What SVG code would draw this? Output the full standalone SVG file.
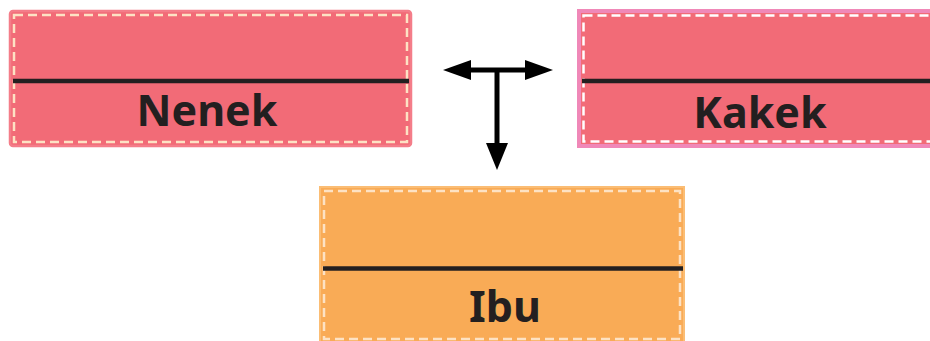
<svg xmlns="http://www.w3.org/2000/svg" width="930" height="341" viewBox="0 0 930 341">
<defs>
<style>
.fill-red{fill:#f26b77}
.fill-org{fill:#f9ab56}
.inner{fill:none;stroke-width:2.5;stroke-dasharray:9 5}
.div{stroke:#231f20;stroke-width:4.5}
.lbl{font-family:"Noto Sans","Open Sans",sans-serif;font-weight:bold;font-size:43px;fill:#231f20;text-anchor:middle}
.conn{stroke:#000;stroke-width:5;fill:none}
.head{fill:#000}
</style>
</defs>
<rect width="930" height="341" fill="#fff"/>
<g id="nenek">
<rect class="fill-red" x="10" y="11" width="401" height="135" rx="3" stroke="#f47d89" stroke-width="2.5"/>
<rect class="inner" x="14" y="15" width="393" height="127" stroke="#fde2c4"/>
<line class="div" x1="13" y1="81" x2="409" y2="81"/>
<text class="lbl" x="207" y="126">Nenek</text>
</g>
<g id="kakek">
<rect class="fill-red" x="579" y="11" width="400" height="135" stroke="#f088b8" stroke-width="4"/>
<rect class="inner" x="583.5" y="15.5" width="400" height="126" stroke="#ffffff"/>
<line class="div" x1="582" y1="81" x2="930" y2="81"/>
<text class="lbl" x="760" y="128">Kakek</text>
</g>
<g id="ibu">
<rect class="fill-org" x="320" y="187" width="364" height="160" stroke="#fbbd74" stroke-width="2"/>
<rect class="inner" x="324" y="191" width="356" height="148" stroke="#fde2c4"/>
<line class="div" x1="323" y1="268.5" x2="683" y2="268.5"/>
<text class="lbl" x="505" y="322">Ibu</text>
</g>
<g id="connectors">
<line class="conn" x1="468" y1="70" x2="528" y2="70"/>
<line class="conn" x1="497" y1="70" x2="497" y2="146"/>
<polygon class="head" points="443,70 471,60 471,80"/>
<polygon class="head" points="553,70 525,60 525,80"/>
<polygon class="head" points="497,170 486,143 508,143"/>
</g>
</svg>
